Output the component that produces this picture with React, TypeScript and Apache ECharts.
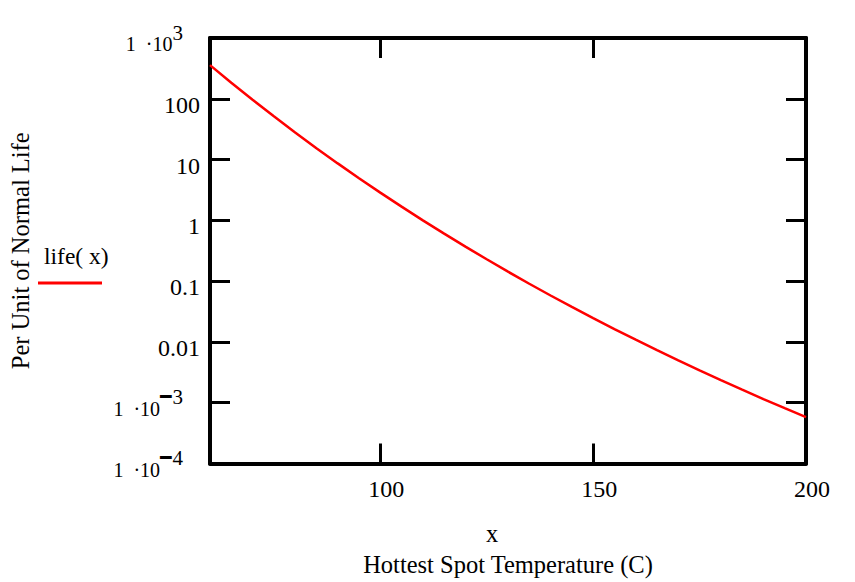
import React, { useEffect, useRef } from "react";
import * as echarts from "echarts";

const FONT = '"Liberation Serif", "Times New Roman", serif';

// Temperature (C) sampled along the curve
const temperatures = [60, 65, 70, 75, 80, 85, 90, 95, 100, 105, 110, 115, 120, 125, 130, 135, 140, 145, 150, 155, 160, 165, 170, 175, 180, 185, 190, 195, 200];
// Per unit of normal life
const lifeValues = [358, 184, 96.3, 51.4, 27.9, 15.4, 8.65, 4.94, 2.86, 1.68, 1.0, 0.604, 0.369, 0.229, 0.143, 0.0907, 0.0581, 0.0376, 0.0246, 0.0163, 0.0109, 0.00731, 0.00497, 0.0034, 0.00235, 0.00164, 0.00115, 0.000814, 0.00058];

const xTickValues = [100, 150, 200];
const xTopTickValues = [100, 150];
const yExponents = [-4, -3, -2, -1, 0, 1, 2, 3];
const yPlainLabels: Record<string, string> = { "2": "100", "1": "10", "0": "1", "-1": "0.1", "-2": "0.01" };

const legendLabel = "life( x)";
const xTitleTop = "x";
const xTitle = "Hottest Spot Temperature (C)";
const yTitle = "Per Unit of Normal Life";

export default function App() {
  const ref = useRef<HTMLDivElement>(null);
  useEffect(() => {
    if (!ref.current) return;
    const chart = echarts.init(ref.current, null, { renderer: "svg" });
    const axisLine = { show: true, lineStyle: { color: "#000", width: 4 } };
    const tick = { show: true, inside: true, length: 20, lineStyle: { color: "#000", width: 3 } };
    const yMin = Math.pow(10, yExponents[0]);
    const yMax = Math.pow(10, yExponents[yExponents.length - 1]);
    chart.setOption({
      animation: false,
      backgroundColor: "#fff",
      grid: { left: 210, right: 49, top: 38, bottom: 117, containLabel: false },
      xAxis: [
        {
          type: "value",
          position: "bottom",
          min: temperatures[0],
          max: temperatures[temperatures.length - 1],
          axisLine,
          axisTick: { ...tick, customValues: xTickValues },
          splitLine: { show: false },
          axisLabel: {
            customValues: xTickValues,
            fontFamily: FONT,
            fontSize: 24,
            color: "#000",
            margin: 13,
            padding: [0, 0, 0, 12],
            showMinLabel: true,
            showMaxLabel: true,
          },
          name: `{a|${xTitleTop}}\n{b|${xTitle}}`,
          nameLocation: "middle",
          nameGap: 56,
          nameTextStyle: {
            fontFamily: FONT,
            color: "#000",
            rich: {
              a: { fontFamily: FONT, fontSize: 24.5, lineHeight: 28, color: "#000", padding: [0, 32, 0, 0] },
              b: { fontFamily: FONT, fontSize: 24.5, lineHeight: 34, color: "#000" },
            },
          },
        },
        {
          type: "value",
          position: "top",
          min: temperatures[0],
          max: temperatures[temperatures.length - 1],
          axisLine,
          axisTick: { ...tick, customValues: xTopTickValues },
          axisLabel: { show: false },
          splitLine: { show: false },
        },
      ],
      yAxis: [
        {
          type: "log",
          logBase: 10,
          position: "left",
          min: yMin,
          max: yMax,
          splitNumber: 7,
          axisLine,
          axisTick: tick,
          splitLine: { show: false },
          axisLabel: {
            margin: 10,
            fontFamily: FONT,
            color: "#000",
            padding: [12, 0, 0, 0],
            showMinLabel: true,
            showMaxLabel: true,
            formatter: (v: number) => {
              const e = Math.round(Math.log10(v));
              if (e >= 3 || e <= -3) {
                const minus = e < 0 ? "{m|\u2501}" : "";
                return `{b|1\u00a0\u00a0·10}${minus}{s|${Math.abs(e)}}`;
              }
              return `{n|${yPlainLabels[String(e)]}}`;
            },
            rich: {
              n: { fontFamily: FONT, fontSize: 24, lineHeight: 24, color: "#000" },
              b: { fontFamily: FONT, fontSize: 20, lineHeight: 44, color: "#000", verticalAlign: "middle" },
              m: { fontFamily: '"DejaVu Sans Mono", monospace', fontSize: 19, lineHeight: 14, color: "#000", verticalAlign: "top", padding: [0, 1, 0, 0] },
              s: { fontFamily: FONT, fontSize: 21, lineHeight: 14, color: "#000", verticalAlign: "top", padding: [0, 17, 0, 0] },
            },
          },
          name: yTitle,
          nameLocation: "middle",
          nameGap: 177,
          nameTextStyle: { fontFamily: FONT, fontSize: 24.5, color: "#000" },
        },
        {
          type: "log",
          logBase: 10,
          position: "right",
          min: yMin,
          max: yMax,
          splitNumber: 7,
          axisLine,
          axisTick: tick,
          axisLabel: { show: false },
          splitLine: { show: false },
        },
      ],
      graphic: [
        {
          type: "text",
          left: 44,
          top: 244,
          style: { text: legendLabel, fontFamily: FONT, fontSize: 23.5, fill: "#000" },
        },
        {
          type: "line",
          shape: { x1: 38, y1: 283, x2: 102, y2: 283 },
          style: { stroke: "#ff0000", lineWidth: 3 },
        },
      ],
      series: [
        {
          type: "line",
          name: legendLabel,
          xAxisIndex: 0,
          yAxisIndex: 0,
          data: temperatures.map((t, i) => [t, lifeValues[i]]),
          showSymbol: false,
          smooth: false,
          lineStyle: { color: "#ff0000", width: 2.5 },
          itemStyle: { color: "#ff0000" },
          z: 1,
        },
      ],
    });
    return () => chart.dispose();
  }, []);
  return <div ref={ref} style={{ position: "absolute", left: 0, top: 0, width: 855, height: 582 }} />;
}
